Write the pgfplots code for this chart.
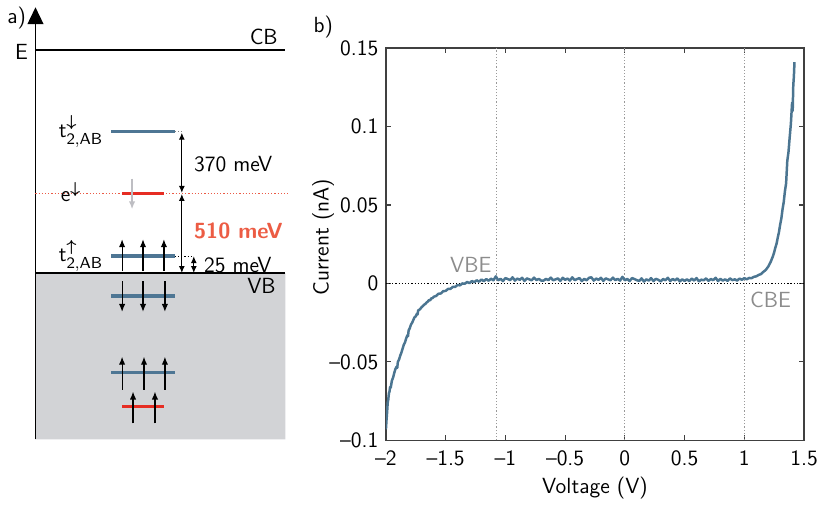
\documentclass[border=0pt,11pt]{standalone}
\renewcommand{\familydefault}{\sfdefault}
\usepackage{amsmath}
\usepackage{pgfplots}
\pgfplotsset{compat=1.18}
\usetikzlibrary{arrows.meta}
\definecolor{curve}{RGB}{75,117,145}
\definecolor{lvlblue}{RGB}{78,118,148}
\definecolor{lvlred}{RGB}{230,45,35}
\definecolor{dotred}{RGB}{235,90,70}
\definecolor{txtred}{RGB}{236,92,68}
\definecolor{vbgray}{RGB}{210,211,214}
\definecolor{elgray}{RGB}{190,190,195}
\definecolor{lblgray}{RGB}{140,140,140}
\begin{document}
\begin{tikzpicture}[font=\fontsize{11}{13}\selectfont]
% ---------------- panel a (schematic, pixel coordinates) ----------------
\begin{axis}[at={(0pt,0pt)}, anchor=south west, scale only axis,
  width=412.5pt, height=253pt, xmin=0, xmax=825, ymin=0, ymax=506,
  y dir=reverse, hide axis, clip=false]
% valence band area
\addplot[fill=vbgray, draw=none] coordinates {(36,274) (287,274) (287,441) (36,441) (36,274)};
% energy axis
\addplot[black, line width=0.7pt, -{Triangle[length=8.5pt,width=8pt]}] coordinates {(36,441) (36,7)};
% CB and VB edges
\addplot[black, line width=0.7pt] coordinates {(36,50) (287,50)};
\addplot[black, line width=0.7pt] coordinates {(36,274) (287,274)};
% red dotted e level
\addplot[dotred, densely dotted, line width=0.6pt] coordinates {(36,194) (290,194)};
% levels
\addplot[lvlblue, line width=1.7pt] coordinates {(112,132) (176,132)};
\addplot[lvlred, line width=1.7pt] coordinates {(123,194) (165,194)};
\addplot[lvlblue, line width=1.7pt] coordinates {(112,257) (176,257)};
\addplot[lvlblue, line width=1.7pt] coordinates {(112,297) (176,297)};
\addplot[lvlblue, line width=1.7pt] coordinates {(112,374) (176,374)};
\addplot[lvlred, line width=1.7pt] coordinates {(123,408) (165,408)};
% spin arrows
\pgfplotsset{spin/.style={black, line width=0.6pt, -{Latex[length=4pt,width=3.2pt]}}}
\addplot[spin] coordinates {(123,272) (123,240)};
\addplot[spin] coordinates {(144,272) (144,240)};
\addplot[spin] coordinates {(165,272) (165,240)};
\addplot[spin] coordinates {(123,282) (123,313)};
\addplot[spin] coordinates {(144,282) (144,313)};
\addplot[spin] coordinates {(166,282) (166,313)};
\addplot[spin] coordinates {(123,391) (123,358)};
\addplot[spin] coordinates {(145,391) (145,358)};
\addplot[spin] coordinates {(166,391) (166,358)};
\addplot[spin] coordinates {(134,425) (134,393)};
\addplot[spin] coordinates {(156,425) (156,393)};
\addplot[elgray, line width=0.9pt, -{Latex[length=4pt,width=3.2pt]}] coordinates {(133,179) (133,210)};
% dimension arrows
\pgfplotsset{dim/.style={black, line width=0.6pt, {Latex[length=3.5pt,width=3pt]}-{Latex[length=3.5pt,width=3pt]}}}
\addplot[dim] coordinates {(183,133) (183,193.5)};
\addplot[dim] coordinates {(183,194.5) (183,274)};
\addplot[dim] coordinates {(195,257) (195,274)};
\addplot[gray, densely dotted, line width=0.6pt] coordinates {(176,132) (183,132)};
\addplot[black, densely dotted, line width=0.6pt] coordinates {(176,257) (195,257)};
% labels
\node at (axis cs:17,18) {a)};
\node at (axis cs:22,52) {E};
\node[anchor=east] at (axis cs:287,37) {CB};
\node[anchor=east] at (axis cs:285,287) {VB};
\node[anchor=west, inner sep=0pt] at (axis cs:59,132) {t$^{\boldsymbol{\downarrow}}_{\mathsf{2{,}AB}}$};
\node[anchor=west, inner sep=0pt] at (axis cs:59,257) {t$^{\boldsymbol{\uparrow}}_{\mathsf{2{,}AB}}$};
\node[anchor=west, inner sep=0pt] at (axis cs:61,193) {e$^{\boldsymbol{\downarrow}}$};
\node[anchor=west, inner sep=0pt] at (axis cs:195,165) {370 meV};
\node[anchor=west, inner sep=0pt, text=txtred] at (axis cs:195,232) {\bfseries 510 meV};
\node[anchor=west, inner sep=0pt] at (axis cs:205,266) {25 meV};
\node at (axis cs:325,27) {b)};
\end{axis}
% ---------------- panel b (I-V curve) ----------------
\begin{axis}[at={(194pt,32pt)}, anchor=south west, scale only axis,
  width=210pt, height=197pt,
  xmin=-2, xmax=1.5, ymin=-0.1, ymax=0.15,
  xtick={-2,-1.5,-1,-0.5,0,0.5,1,1.5},
  xticklabels={--2,--1.5,--1,--0.5,0,0.5,1,1.5},
  ytick={-0.1,-0.05,0,0.05,0.1,0.15},
  yticklabels={--0.1,--0.05,0,0.05,0.1,0.15},
  tick align=inside, major tick length=2.5pt,
  tick style={black!75, line width=0.6pt},
  axis line style={black!75, line width=0.7pt},
  xticklabel style={yshift=-1.5pt},
  xlabel={Voltage (V)}, ylabel={Current (nA)},
  x label style={at={(axis description cs:0.5,-0.122)}, anchor=center},
  y label style={at={(axis description cs:-0.15,0.518)}, anchor=center},
  clip=true]
\addplot[gray!80, densely dotted, line width=0.6pt] coordinates {(-1.075,-0.1) (-1.075,0.15)};
\addplot[gray!80, densely dotted, line width=0.6pt] coordinates {(0,-0.1) (0,0.15)};
\addplot[gray!80, densely dotted, line width=0.6pt] coordinates {(1.0,-0.1) (1.0,0.15)};
\addplot[black, densely dotted, line width=0.6pt] coordinates {(-2,0) (1.5,0)};
\addplot[curve, line width=1.25pt, line join=round] coordinates {
(-2.000,-0.0930) (-1.995,-0.0870) (-1.990,-0.0820) (-1.985,-0.0760) (-1.980,-0.0740)
(-1.975,-0.0700) (-1.970,-0.0690) (-1.965,-0.0660) (-1.960,-0.0665) (-1.950,-0.0620)
(-1.940,-0.0600) (-1.930,-0.0570) (-1.920,-0.0545) (-1.910,-0.0530) (-1.905,-0.0538) (-1.900,-0.0500)
(-1.890,-0.0485) (-1.880,-0.0460) (-1.870,-0.0440) (-1.860,-0.0415) (-1.850,-0.0390)
(-1.840,-0.0375) (-1.830,-0.0350) (-1.820,-0.0330) (-1.815,-0.0336) (-1.810,-0.0300) (-1.800,-0.0285)
(-1.790,-0.0262) (-1.780,-0.0250) (-1.770,-0.0232) (-1.760,-0.0215) (-1.750,-0.0210)
(-1.740,-0.0192) (-1.735,-0.0198) (-1.730,-0.0172) (-1.720,-0.0168) (-1.710,-0.0160) (-1.700,-0.0150)
(-1.69,-0.0144) (-1.68,-0.0135) (-1.67,-0.0131) (-1.66,-0.0122) (-1.65,-0.0116) (-1.64,-0.0106)
(-1.63,-0.0108) (-1.62,-0.0095) (-1.61,-0.0094) (-1.60,-0.0085)
(-1.58,-0.0080) (-1.56,-0.0066) (-1.54,-0.0064) (-1.52,-0.0049) (-1.50,-0.0048)
(-1.48,-0.0035) (-1.46,-0.0035) (-1.44,-0.0022) (-1.42,-0.0022) (-1.40,-0.0010)
(-1.38,-0.0012) (-1.36,0.0000) (-1.34,-0.0002) (-1.32,0.0009) (-1.30,0.0002)
(-1.28,0.0015) (-1.26,0.0008) (-1.24,0.0020) (-1.22,0.0011) (-1.20,0.0025)
(-1.18,0.0014) (-1.16,0.0028) (-1.14,0.0017) (-1.12,0.0030) (-1.10,0.0020)
(-1.08,0.0045) (-1.06,0.0020) (-1.04,0.0029) (-1.02,0.0015) (-1.00,0.0034)
(-0.98,0.0028) (-0.96,0.0021) (-0.94,0.0039) (-0.92,0.0018) (-0.90,0.0031)
(-0.88,0.0023) (-0.86,0.0036) (-0.84,0.0016) (-0.82,0.0032) (-0.80,0.0026)
(-0.78,0.0020) (-0.76,0.0037) (-0.74,0.0021) (-0.72,0.0029) (-0.70,0.0018)
(-0.68,0.0018) (-0.66,0.0029) (-0.64,0.0021) (-0.62,0.0037) (-0.60,0.0020)
(-0.58,0.0026) (-0.56,0.0032) (-0.54,0.0016) (-0.52,0.0036) (-0.50,0.0023)
(-0.48,0.0031) (-0.46,0.0018) (-0.44,0.0039) (-0.42,0.0021) (-0.40,0.0028)
(-0.38,0.0034) (-0.36,0.0015) (-0.34,0.0029) (-0.32,0.0020) (-0.30,0.0036)
(-0.28,0.0039) (-0.26,0.0018) (-0.24,0.0031) (-0.22,0.0023) (-0.20,0.0036)
(-0.18,0.0016) (-0.16,0.0032) (-0.14,0.0026) (-0.12,0.0020) (-0.10,0.0037)
(-0.08,0.0021) (-0.06,0.0029) (-0.04,0.0018) (-0.02,0.0042) (0.00,0.0020)
(0.02,0.0029) (0.04,0.0015) (0.06,0.0034) (0.08,0.0028) (0.10,0.0021)
(0.12,0.0016) (0.14,0.0032) (0.16,0.0012) (0.18,0.0026) (0.20,0.0018)
(0.22,0.0034) (0.24,0.0015) (0.26,0.0029) (0.28,0.0023) (0.30,0.0013)
(0.32,0.0028) (0.34,0.0020) (0.36,0.0036) (0.38,0.0015) (0.40,0.0028)
(0.42,0.0020) (0.44,0.0032) (0.46,0.0013) (0.48,0.0026) (0.50,0.0016)
(0.52,0.0026) (0.54,0.0015) (0.56,0.0031) (0.58,0.0018) (0.60,0.0034)
(0.62,0.0013) (0.64,0.0024) (0.66,0.0020) (0.68,0.0032) (0.70,0.0016)
(0.72,0.0028) (0.74,0.0021) (0.76,0.0036) (0.78,0.0015) (0.80,0.0029)
(0.82,0.0018) (0.84,0.0026) (0.86,0.0016) (0.88,0.0032) (0.90,0.0021)
(0.92,0.0026) (0.94,0.0018) (0.96,0.0031) (0.98,0.0023) (1.00,0.0034)
(1.02,0.0026) (1.04,0.0035) (1.06,0.0033) (1.08,0.0042) (1.10,0.0045)
(1.12,0.0054) (1.14,0.0060) (1.16,0.0074) (1.18,0.0086) (1.20,0.0107)
(1.22,0.0136) (1.24,0.0174) (1.25,0.0198) (1.26,0.0228) (1.27,0.0253)
(1.28,0.0292) (1.29,0.0326) (1.30,0.0374) (1.31,0.0413) (1.32,0.0472)
(1.33,0.0518) (1.34,0.0587) (1.35,0.0638) (1.36,0.0782) (1.37,0.0838)
(1.38,0.0932) (1.39,0.1018) (1.40,0.1152) (1.405,0.1100) (1.41,0.1262)
(1.415,0.1318) (1.42,0.1410)
};
\node[text=lblgray] at (axis cs:-1.29,0.012) {VBE};
\node[text=lblgray] at (axis cs:1.22,-0.0105) {CBE};
\end{axis}
\end{tikzpicture}
\end{document}
